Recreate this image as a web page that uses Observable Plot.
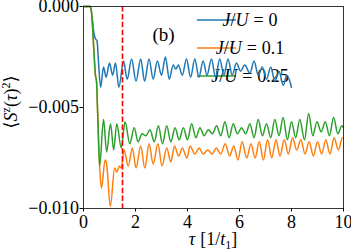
<!DOCTYPE html>
<html><head><meta charset="utf-8">
<script src="https://cdn.jsdelivr.net/npm/d3@7"></script>
<script src="https://cdn.jsdelivr.net/npm/@observablehq/plot@0.6"></script>
<style>body{margin:0;background:#fff}</style>
</head><body><div id="chart"></div>
<script>
// J/U = 0
const tauA = [0,0.27,0.33,0.4,0.46,0.52,0.58,0.66,0.77,0.87,1.0,1.12,1.23,1.36,1.54,1.68,1.85,2.02,2.2,2.35,2.52,2.68,2.84,3.0,3.15,3.3,3.45,3.55,3.65,3.8,3.96,4.12,4.28,4.44,4.6,4.75,4.92,5.08,5.24,5.4,5.56,5.72,5.88,6.04,6.2,6.4,6.56,6.72,6.88,7.04,7.2,7.36,7.52,7.68,7.82,8.0];
const valA = [0,0,-0.0005,-0.0013,-0.0016,-0.0017,-0.0028,-0.0040,-0.0030,-0.0035,-0.0028,-0.0034,-0.0028,-0.0040,-0.0027,-0.0036,-0.0026,-0.0037,-0.0026,-0.0037,-0.0026,-0.0036,-0.0027,-0.0034,-0.0025,-0.0036,-0.0029,-0.0031,-0.0029,-0.0034,-0.0026,-0.0035,-0.0026,-0.0035,-0.0027,-0.0034,-0.0026,-0.0035,-0.0026,-0.0034,-0.0026,-0.0034,-0.0028,-0.0032,-0.0029,-0.0033,-0.0027,-0.0034,-0.0030,-0.0036,-0.0030,-0.0037,-0.0032,-0.0039,-0.0034,-0.0040];
// J/U = 0.1
const tauB = [0,0.27,0.33,0.4,0.46,0.5,0.55,0.62,0.69,0.83,0.89,1.03,1.2,1.28,1.38,1.45,1.56,1.72,1.88,2.02,2.2,2.36,2.52,2.68,2.86,3.02,3.2,3.36,3.5,3.66,3.8,3.98,4.1,4.28,4.45,4.6,4.78,4.95,5.1,5.28,5.45,5.62,5.78,5.94,6.1,6.28,6.44,6.6,6.76,6.92,7.08,7.24,7.4,7.56,7.72,7.88,8.04,8.2,8.36,8.52,8.68,8.84,9.0,9.16,9.32,9.48,9.64,9.8,9.96,10];
const valB = [0,0,-0.0006,-0.0022,-0.0034,-0.0037,-0.0055,-0.0079,-0.0090,-0.0076,-0.0078,-0.0099,-0.0080,-0.0082,-0.0079,-0.0080,-0.0071,-0.0079,-0.0070,-0.0080,-0.0069,-0.0080,-0.0068,-0.0078,-0.0068,-0.0079,-0.0070,-0.0077,-0.0069,-0.0074,-0.0070,-0.0075,-0.0069,-0.0073,-0.0070,-0.0073,-0.0071,-0.0073,-0.0070,-0.0073,-0.0068,-0.0074,-0.0069,-0.0076,-0.0067,-0.0075,-0.0068,-0.0075,-0.0067,-0.0076,-0.0066,-0.0075,-0.0066,-0.0074,-0.0066,-0.0073,-0.0065,-0.0071,-0.0066,-0.0073,-0.0067,-0.0074,-0.0067,-0.0073,-0.0066,-0.0073,-0.0065,-0.0071,-0.0065,-0.0065];
// J/U = 0.25
const tauC = [0,0.27,0.33,0.4,0.46,0.5,0.55,0.62,0.77,0.89,1.04,1.16,1.28,1.45,1.6,1.78,1.95,2.1,2.25,2.4,2.56,2.72,2.88,3.04,3.2,3.36,3.52,3.68,3.84,4.0,4.16,4.32,4.48,4.64,4.8,4.96,5.12,5.28,5.44,5.6,5.76,5.92,6.08,6.24,6.4,6.56,6.72,6.88,7.04,7.2,7.36,7.52,7.68,7.84,8.0,8.16,8.32,8.5,8.66,8.82,8.98,9.14,9.3,9.46,9.62,9.78,9.94,10];
const valC = [0,0,-0.0006,-0.0022,-0.0034,-0.0037,-0.0055,-0.0079,-0.0056,-0.0072,-0.0058,-0.0071,-0.0058,-0.0070,-0.0057,-0.0068,-0.0060,-0.0067,-0.0063,-0.0064,-0.0061,-0.0067,-0.0059,-0.0068,-0.0059,-0.0067,-0.0060,-0.0066,-0.0060,-0.0066,-0.0058,-0.0065,-0.0060,-0.0064,-0.0061,-0.0063,-0.0059,-0.0064,-0.0057,-0.0065,-0.0058,-0.0063,-0.0060,-0.0063,-0.0058,-0.0065,-0.0056,-0.0064,-0.0058,-0.0065,-0.0056,-0.0064,-0.0055,-0.0066,-0.0057,-0.0065,-0.0056,-0.0066,-0.0053,-0.0064,-0.0057,-0.0062,-0.0057,-0.0064,-0.0055,-0.0063,-0.0059,-0.0060];

const seriesLabels = ["0", "0.1", "0.25"];
const seriesColors = ["#1f77b4", "#ff7f0e", "#2ca02c"];
const markerTau = [1.5];
const xTicks = [0, 2, 4, 6, 8, 10];
const yTicks = [0, -0.005, -0.010];
const yTickLabels = ["0.000", "\u22120.005", "\u22120.010"];

const toRows = (t, v) => t.map((x, i) => ({tau: x, v: v[i]}));
const data = [toRows(tauA, valA), toRows(tauB, valB), toRows(tauC, valC)];

const font = "'Liberation Serif', 'DejaVu Serif', serif";
const plot = Plot.plot({
  width: 351, height: 251,
  marginLeft: 83, marginRight: 8, marginTop: 6, marginBottom: 43,
  style: {fontFamily: font, fontSize: "18px", color: "#000", background: "#fff", overflow: "visible"},
  x: {domain: [0, 10]},
  y: {domain: [-0.010, 0]},
  marks: [
    Plot.axisX({ticks: xTicks, tickSize: 3.5, tickPadding: 3, label: null, fontSize: 18}),
    Plot.axisY({ticks: yTicks, tickFormat: (d) => yTickLabels[yTicks.indexOf(d)], tickSize: 3.5, tickPadding: 1, label: null, fontSize: 18}),
    ...data.map((rows, i) => Plot.line(rows, {x: "tau", y: "v", stroke: seriesColors[i], strokeWidth: 1.5, curve: "monotone-x"})),
    Plot.ruleX(markerTau, {stroke: "#ff0000", strokeWidth: 1.6, strokeDasharray: "5.5,2.4"}),
    Plot.frame({stroke: "#222", strokeWidth: 0.9}),
    Plot.text(["(b)"], {frameAnchor: "top-left", dx: 80, dy: 28, textAnchor: "middle", lineAnchor: "middle", fontSize: 19, fontFamily: font})
  ]
});
document.getElementById("chart").appendChild(plot);

const svg = d3.select(plot);
// legend (below the curves)
const leg = svg.insert("g", "g").attr("font-family", font).attr("font-size", 18);
seriesLabels.forEach((lab, i) => {
  const y = 20 + i * 28;
  leg.append("line").attr("x1", 197).attr("x2", 236).attr("y1", y).attr("y2", y)
    .attr("stroke", seriesColors[i]).attr("stroke-width", 1.5);
  const t = leg.append("text").attr("x", 250).attr("y", y + 6);
  t.append("tspan").attr("font-style", "italic").text("J");
  t.append("tspan").text("/");
  t.append("tspan").attr("font-style", "italic").text("U");
  t.append("tspan").attr("dx", 5).text("=");
  t.append("tspan").attr("dx", 5).text(lab);
});
// y label
const yl = svg.append("text").attr("transform", "translate(17,102) rotate(-90)")
  .attr("text-anchor", "middle").attr("font-family", font).attr("font-size", 18);
yl.append("tspan").text("\u27E8");
yl.append("tspan").attr("font-style", "italic").text("S");
yl.append("tspan").attr("font-size", 12).attr("dy", -7).text("z");
yl.append("tspan").attr("dy", 7).text("(");
yl.append("tspan").attr("font-style", "italic").text("\u03C4");
yl.append("tspan").text(")");
yl.append("tspan").attr("font-size", 12).attr("dy", -7).text("2");
yl.append("tspan").attr("dy", 7).text("\u27E9");
// x label
const xl = svg.append("text").attr("x", 213).attr("y", 245)
  .attr("text-anchor", "middle").attr("font-family", font).attr("font-size", 18);
xl.append("tspan").attr("font-style", "italic").text("\u03C4");
xl.append("tspan").attr("dx", 5).text("[1/");
xl.append("tspan").attr("font-style", "italic").text("t");
xl.append("tspan").attr("font-size", 12).attr("dy", 4).text("1");
xl.append("tspan").attr("dy", -4).text("]");
</script>
</body></html>
